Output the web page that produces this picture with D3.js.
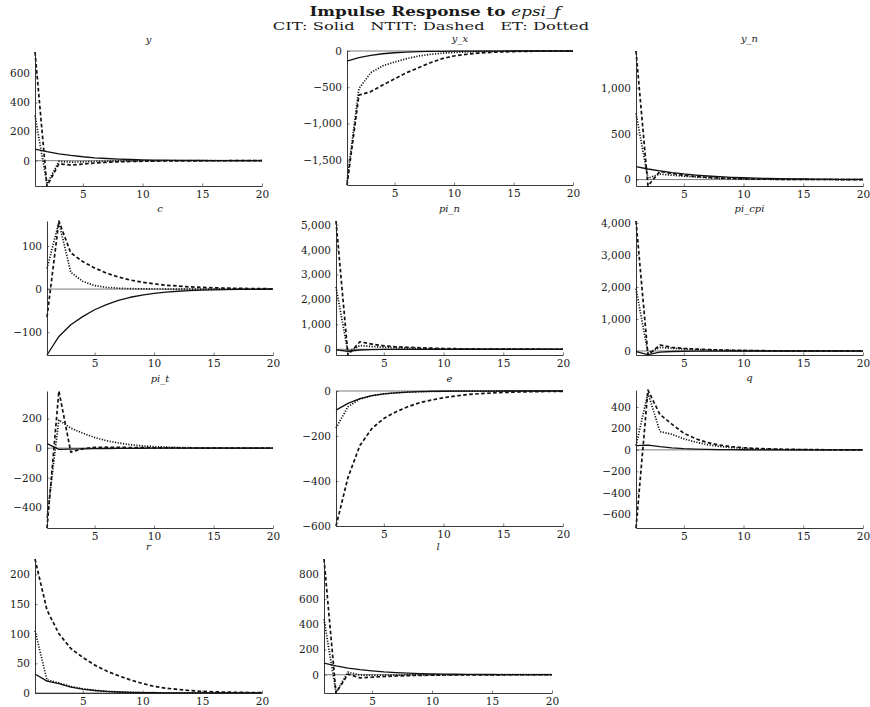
<!DOCTYPE html>
<html>
<head>
<meta charset="utf-8">
<script src="https://cdn.jsdelivr.net/npm/d3@7"></script>
<style>
  body { margin: 0; background: #fff; }
  svg text { font-family: "DejaVu Serif", "Liberation Serif", serif; fill: #1a1a1a; }
</style>
</head>
<body>
<svg id="chart" width="870" height="707"></svg>
<script>
// ============================================================
// DATA  (periods 1..20)
// ============================================================
const periods = [1, 2, 3, 4, 5, 6, 7, 8, 9, 10, 11, 12, 13, 14, 15, 16, 17, 18, 19, 20];
const xTicks = [5, 10, 15, 20];

const y_CIT  = [80, 62, 47, 36, 27, 20, 15, 11, 8, 6, 4.5, 3.4, 2.5, 1.9, 1.4, 1.0, 0.8, 0.6, 0.4, 0.3];
const y_NTIT = [747, -174, -22, -30, -23, -16, -11, -8, -5.5, -3.8, -2.6, -1.8, -1.2, -0.8, -0.6, -0.4, -0.3, -0.2, -0.1, -0.1];
const y_ET   = [310, -160, -5, -10, -8, -5.5, -3.8, -2.5, -1.6, -1, -0.6, -0.4, -0.2, -0.1, -0.1, 0, 0, 0, 0, 0];
const y_ticks = [0, 200, 400, 600];

const yx_CIT  = [-140, -92, -60, -38, -24, -15, -9, -6, -4, -2.5, -1.5, -1, -0.6, -0.4, -0.3, -0.2, -0.1, 0, 0, 0];
const yx_NTIT = [-1850, -610, -560, -470, -385, -300, -231, -162, -106, -69, -46, -30, -20, -13, -8, -5, -3, -2, -1.3, -0.8];
const yx_ET   = [-1800, -520, -300, -205, -153, -106, -69, -46, -30, -20, -13, -8, -5, -3, -2, -1.3, -0.8, -0.5, -0.3, -0.2];
const yx_ticks = [-1500, -1000, -500, 0];

const yn_CIT  = [140, 115, 95, 76, 61, 49, 39, 31, 25, 20, 16, 12.5, 10, 8, 6.4, 5, 4, 3.2, 2.6, 2];
const yn_NTIT = [1400, -70, 90, 66, 47, 34, 24, 17, 12, 8.5, 6, 4.2, 3, 2.1, 1.5, 1, 0.7, 0.5, 0.35, 0.25];
const yn_ET   = [720, 15, 60, 48, 37, 28, 20, 14, 10, 7, 5, 3.5, 2.5, 1.7, 1.2, 0.8, 0.6, 0.4, 0.3, 0.2];
const yn_ticks = [0, 500, 1000];

const c_CIT  = [-153, -110, -83, -64, -48, -36, -26, -19, -14, -10, -7, -5, -3.5, -2.5, -1.8, -1.3, -0.9, -0.6, -0.4, -0.3];
const c_NTIT = [-65, 158, 84, 64, 49, 37, 28, 21, 16, 12, 9, 7, 5, 4, 3, 2.2, 1.7, 1.3, 1, 0.7];
const c_ET   = [48, 155, 39, 18, 8, 4, 2, 1, 0.5, 0.2, 0.1, 0, 0, 0, 0, 0, 0, 0, 0, 0];
const c_ticks = [-100, 0, 100];

const pin_CIT  = [-20, -80, -30, -15, -8, -4, -2, -1, -0.5, -0.2, 0, 0, 0, 0, 0, 0, 0, 0, 0, 0];
const pin_NTIT = [5150, -230, 300, 210, 140, 100, 78, 58, 43, 31, 22, 16, 11, 8, 5.5, 4, 2.8, 2, 1.4, 1];
const pin_ET   = [2500, -120, 150, 110, 80, 58, 42, 30, 21, 15, 10, 7, 5, 3.5, 2.5, 1.7, 1.2, 0.8, 0.6, 0.4];
const pin_ticks = [0, 1000, 2000, 3000, 4000, 5000];

const picpi_CIT  = [-20, -110, -35, -15, -8, -4, -2, -1, -0.5, -0.2, 0, 0, 0, 0, 0, 0, 0, 0, 0, 0];
const picpi_NTIT = [4060, -125, 186, 114, 80, 60, 45, 33, 24, 17, 12, 8.5, 6, 4.2, 3, 2, 1.4, 1, 0.7, 0.5];
const picpi_ET   = [1950, -60, 110, 85, 62, 45, 33, 24, 17, 12, 8.5, 6, 4.2, 3, 2, 1.4, 1, 0.7, 0.5, 0.35];
const picpi_ticks = [0, 1000, 2000, 3000, 4000];

const pit_CIT  = [30, -8, -7, -5, -3.5, -2.5, -1.7, -1.2, -0.8, -0.5, -0.3, -0.2, -0.1, 0, 0, 0, 0, 0, 0, 0];
const pit_NTIT = [-540, 386, -27, -5, 5, 6, 5, 4, 3, 2, 1.4, 1, 0.7, 0.5, 0.3, 0.2, 0.1, 0.1, 0, 0];
const pit_ET   = [-470, 190, 135, 101, 72, 50, 35, 23, 15, 10, 6.5, 4.2, 2.7, 1.7, 1.1, 0.7, 0.4, 0.3, 0.2, 0.1];
const pit_ticks = [-400, -200, 0, 200];

const e_CIT  = [-85, -55, -34, -21, -13, -8, -5, -3, -1.8, -1.1, -0.7, -0.4, -0.25, -0.15, -0.1, 0, 0, 0, 0, 0];
const e_NTIT = [-600, -385, -242, -167, -122, -93, -70, -52, -40, -30, -22, -16, -12, -9, -6.5, -4.7, -3.4, -2.5, -1.8, -1.3];
const e_ET   = [-165, -70, -36, -21, -13, -8, -5, -3, -1.8, -1.1, -0.7, -0.4, -0.25, -0.15, -0.1, 0, 0, 0, 0, 0];
const e_ticks = [-600, -400, -200, 0];

const q_CIT  = [40, 45, 30, 19, 12, 7.5, 4.7, 3, 1.9, 1.2, 0.8, 0.5, 0.3, 0.2, 0.1, 0, 0, 0, 0, 0];
const q_NTIT = [-728, 558, 330, 240, 155, 103, 68, 45, 30, 20, 14, 9.5, 6.4, 4.3, 2.9, 2, 1.3, 0.9, 0.6, 0.4];
const q_ET   = [40, 530, 171, 145, 103, 72, 48, 32, 21, 14, 9, 6, 4, 2.6, 1.7, 1.1, 0.7, 0.5, 0.3, 0.2];
const q_ticks = [-600, -400, -200, 0, 200, 400];

const r_CIT  = [32, 20, 16, 10, 6.5, 4.2, 2.7, 1.7, 1.1, 0.7, 0.45, 0.3, 0.2, 0.1, 0.1, 0, 0, 0, 0, 0];
const r_NTIT = [226, 140, 100, 75, 60, 47, 37, 29, 22, 16, 11, 8, 6, 4, 2.8, 2, 1.5, 1.1, 0.8, 0.6];
const r_ET   = [105, 22, 17, 11, 7, 4.5, 2.9, 1.9, 1.2, 0.8, 0.5, 0.3, 0.2, 0.1, 0.1, 0, 0, 0, 0, 0];
const r_ticks = [0, 50, 100, 150, 200];

const l_CIT  = [92, 70, 53, 40, 30, 22, 17, 12.5, 9.4, 7, 5.2, 3.9, 2.9, 2.2, 1.6, 1.2, 0.9, 0.7, 0.5, 0.4];
const l_NTIT = [918, -145, 5, -25, -20, -14, -10, -7, -5, -3.5, -2.4, -1.7, -1.2, -0.8, -0.6, -0.4, -0.3, -0.2, -0.1, -0.1];
const l_ET   = [440, -140, 20, -2, -5, -4, -3, -2, -1.3, -0.9, -0.6, -0.4, -0.2, -0.1, -0.1, 0, 0, 0, 0, 0];
const l_ticks = [0, 200, 400, 600, 800];

const panels = [
  { title: 'y',      cit: y_CIT,     ntit: y_NTIT,     et: y_ET,     ticks: y_ticks },
  { title: 'y_x',    cit: yx_CIT,    ntit: yx_NTIT,    et: yx_ET,    ticks: yx_ticks },
  { title: 'y_n',    cit: yn_CIT,    ntit: yn_NTIT,    et: yn_ET,    ticks: yn_ticks },
  { title: 'c',      cit: c_CIT,     ntit: c_NTIT,     et: c_ET,     ticks: c_ticks },
  { title: 'pi_n',   cit: pin_CIT,   ntit: pin_NTIT,   et: pin_ET,   ticks: pin_ticks },
  { title: 'pi_cpi', cit: picpi_CIT, ntit: picpi_NTIT, et: picpi_ET, ticks: picpi_ticks },
  { title: 'pi_t',   cit: pit_CIT,   ntit: pit_NTIT,   et: pit_ET,   ticks: pit_ticks },
  { title: 'e',      cit: e_CIT,     ntit: e_NTIT,     et: e_ET,     ticks: e_ticks },
  { title: 'q',      cit: q_CIT,     ntit: q_NTIT,     et: q_ET,     ticks: q_ticks },
  { title: 'r',      cit: r_CIT,     ntit: r_NTIT,     et: r_ET,     ticks: r_ticks },
  { title: 'l',      cit: l_CIT,     ntit: l_NTIT,     et: l_ET,     ticks: l_ticks }
];

// ============================================================
// LAYOUT  (plot box of each panel: left, right, top, bottom)
// ============================================================
const boxes = [
  [35, 262, 52, 186], [347, 573, 51, 185], [636, 863, 51, 186],
  [47, 273, 221, 355], [336, 563, 221, 355], [636, 863, 221, 355],
  [47, 273, 391, 528], [336, 563, 391, 526], [636, 863, 390, 528],
  [35, 262, 559, 693], [324, 552, 559, 693]
];

const lineStyles = {
  cit:  { width: 1.3, dash: null },
  ntit: { width: 1.7, dash: '3.6,2.4' },
  et:   { width: 1.7, dash: '1.2,1.5' }
};

const svg = d3.select('#chart');
const fmt = d3.format(',');

// ============================================================
// TITLE  (the source figure is stretched sideways, hence the x-scale)
// ============================================================
const title = svg.append('text')
  .attr('transform', 'translate(435,16) scale(1.4,1)')
  .attr('text-anchor', 'middle')
  .attr('font-size', 12);
title.append('tspan').attr('font-weight', 'bold').text('Impulse Response to ');
title.append('tspan').attr('font-style', 'italic').text('epsi_f');

svg.append('text')
  .attr('transform', 'translate(431,29.5) scale(1.42,1)')
  .attr('text-anchor', 'middle')
  .attr('font-size', 11.5)
  .style('white-space', 'pre')
  .text('CIT: Solid   NTIT: Dashed   ET: Dotted');

// ============================================================
// PANELS
// ============================================================
panels.forEach((p, i) => {
  const [left, right, top, bottom] = boxes[i];
  const all = p.cit.concat(p.ntit, p.et);

  const x = d3.scaleLinear().domain(d3.extent(periods)).range([left, right]);
  const y = d3.scaleLinear().domain(d3.extent(all)).range([bottom, top]);

  const g = svg.append('g');

  // zero line
  g.append('line')
    .attr('x1', left).attr('x2', right)
    .attr('y1', y(0)).attr('y2', y(0))
    .attr('stroke', '#222').attr('stroke-width', 0.6);

  // series
  const line = d3.line().x((d, k) => x(periods[k])).y(d => y(d));
  ['cit', 'ntit', 'et'].forEach(key => {
    const st = lineStyles[key];
    g.append('path')
      .datum(p[key])
      .attr('d', line)
      .attr('fill', 'none')
      .attr('stroke', '#111')
      .attr('stroke-width', st.width)
      .attr('stroke-dasharray', st.dash)
      .attr('stroke-linejoin', 'round');
  });

  // axes
  const xAxis = g.append('g')
    .attr('transform', `translate(0,${bottom})`)
    .call(d3.axisBottom(x).tickValues(xTicks).tickSizeInner(-2.5).tickSizeOuter(0).tickPadding(5));
  const yAxis = g.append('g')
    .attr('transform', `translate(${left},0)`)
    .call(d3.axisLeft(y).tickValues(p.ticks).tickFormat(fmt).tickSizeInner(-2.5).tickSizeOuter(0).tickPadding(5));

  [xAxis, yAxis].forEach(a => {
    a.attr('font-family', null).attr('font-size', null);
    a.select('.domain').attr('stroke', '#222').attr('stroke-width', 0.9);
    a.selectAll('.tick line').attr('stroke', '#222').attr('stroke-width', 0.6);
    a.selectAll('.tick text').attr('font-size', 10.5).attr('fill', '#1a1a1a');
  });

  // panel title
  svg.append('text')
    .attr('x', (left + right) / 2).attr('y', top - 9)
    .attr('text-anchor', 'middle')
    .attr('font-size', 10)
    .attr('font-style', 'italic')
    .text(p.title);
});
</script>
</body>
</html>
